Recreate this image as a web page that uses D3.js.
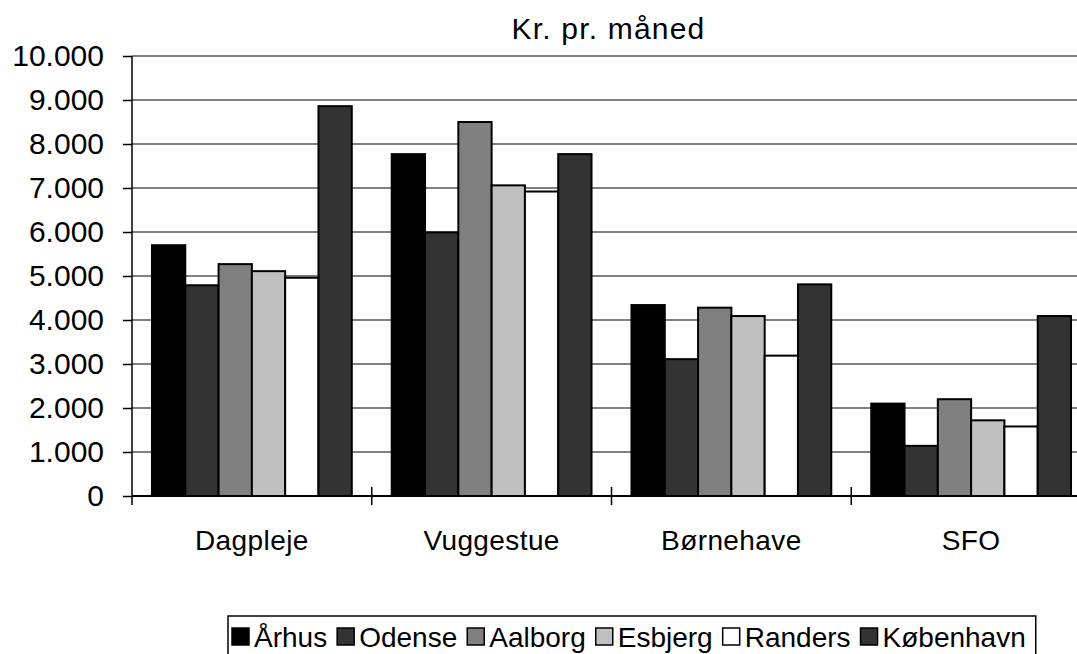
<!DOCTYPE html>
<html>
<head>
<meta charset="utf-8">
<script src="https://cdn.jsdelivr.net/npm/d3@7"></script>
<style>
  body { margin: 0; background: #fff; }
  svg { display: block; font-family: "Liberation Sans", Arial, sans-serif; }
</style>
</head>
<body>
<div id="chart"></div>
<script>
// Data
const categories = ['Dagpleje', 'Vuggestue', 'Børnehave', 'SFO'];
const cities = ['Århus', 'Odense', 'Aalborg', 'Esbjerg', 'Randers', 'København'];
const aarhus = [5700, 7770, 4340, 2100];
const odense = [4790, 5990, 3110, 1140];
const aalborg = [5270, 8500, 4280, 2200];
const esbjerg = [5110, 7060, 4090, 1720];
const randers = [4960, 6920, 3190, 1580];
const koebenhavn = [8860, 7770, 4810, 4090];
const yTicks = [0, 1000, 2000, 3000, 4000, 5000, 6000, 7000, 8000, 9000, 10000];

const seriesValues = [aarhus, odense, aalborg, esbjerg, randers, koebenhavn];
const cityColors = ['#000000', '#333333', '#808080', '#c0c0c0', '#ffffff', '#333333'];

// Size
const width = 1077;
const height = 654;
const plotLeft = 132;
const plotRight = 1091;
const plotTop = 56;
const plotBottom = 496;
const fontSize = 28;

const svg = d3.select('#chart').append('svg')
  .attr('width', width)
  .attr('height', height);

// Scales
const x = d3.scaleBand()
  .domain(categories)
  .range([plotLeft, plotRight]);
const xInner = d3.scaleBand()
  .domain(cities)
  .range([0, x.bandwidth()])
  .paddingInner(0)
  .paddingOuter(0.6);
const y = d3.scaleLinear()
  .domain([0, 10000])
  .range([plotBottom, plotTop]);

// Gridlines
svg.append('g')
  .attr('class', 'grid')
  .attr('stroke', '#808080')
  .attr('stroke-width', 2)
  .selectAll('line')
  .data(yTicks.filter(d => d > 0))
  .join('line')
  .attr('x1', plotLeft)
  .attr('x2', plotRight)
  .attr('y1', d => y(d))
  .attr('y2', d => y(d));

// Bars
const groups = svg.append('g')
  .attr('class', 'bars')
  .selectAll('g')
  .data(categories)
  .join('g')
  .attr('transform', d => `translate(${x(d)},0)`);

groups.selectAll('rect')
  .data((d, i) => cities.map((c, j) => ({city: c, value: seriesValues[j][i], color: cityColors[j]})))
  .join('rect')
  .attr('x', d => xInner(d.city))
  .attr('y', d => y(d.value))
  .attr('width', xInner.bandwidth())
  .attr('height', d => plotBottom - y(d.value))
  .attr('fill', d => d.color)
  .attr('stroke', '#000')
  .attr('stroke-width', 2);

// Y axis
const yAxis = svg.append('g')
  .attr('class', 'y-axis')
  .attr('transform', `translate(${plotLeft},0)`)
  .call(d3.axisLeft(y)
    .tickValues(yTicks)
    .tickSize(9)
    .tickPadding(19)
    .tickFormat(d => d3.format(',')(d).replace(/,/g, '.')));
yAxis.select('.domain').remove();
yAxis.selectAll('.tick line').attr('stroke', '#000').attr('stroke-width', 1.5);
yAxis.selectAll('.tick text')
  .attr('font-size', 30)
  .attr('font-family', '"Liberation Sans", Arial, sans-serif')
  .attr('fill', '#000');
svg.append('line')
  .attr('x1', plotLeft).attr('x2', plotLeft)
  .attr('y1', plotTop).attr('y2', plotBottom + 9)
  .attr('stroke', '#000')
  .attr('stroke-width', 1.5);

// X axis
svg.append('line')
  .attr('x1', plotLeft).attr('x2', plotRight)
  .attr('y1', plotBottom).attr('y2', plotBottom)
  .attr('stroke', '#000')
  .attr('stroke-width', 2);
svg.append('g')
  .attr('class', 'x-ticks')
  .selectAll('line')
  .data(categories.slice(1))
  .join('line')
  .attr('x1', d => x(d)).attr('x2', d => x(d))
  .attr('y1', plotBottom - 9).attr('y2', plotBottom + 9)
  .attr('stroke', '#000')
  .attr('stroke-width', 1.5);
svg.append('g')
  .attr('class', 'x-labels')
  .selectAll('text')
  .data(categories)
  .join('text')
  .attr('x', d => x(d) + x.bandwidth() / 2)
  .attr('y', 550)
  .attr('text-anchor', 'middle')
  .attr('font-size', fontSize)
  .attr('letter-spacing', 0.4)
  .text(d => d);

// Title
svg.append('text')
  .attr('x', (plotLeft + plotRight) / 2 - 3)
  .attr('y', 39)
  .attr('text-anchor', 'middle')
  .attr('font-size', 30)
  .attr('letter-spacing', 1.2)
  .text('Kr. pr. måned');

// Legend
const legend = svg.append('g').attr('class', 'legend');
const legendBox = legend.append('rect')
  .attr('y', 616)
  .attr('height', 60)
  .attr('fill', '#fff')
  .attr('stroke', '#000')
  .attr('stroke-width', 1.5);
let lx = 232;
cities.forEach((c, i) => {
  legend.append('rect')
    .attr('x', lx)
    .attr('y', 628)
    .attr('width', 17)
    .attr('height', 17)
    .attr('fill', cityColors[i])
    .attr('stroke', '#000')
    .attr('stroke-width', 1.5);
  const t = legend.append('text')
    .attr('x', lx + 22)
    .attr('y', 647)
    .attr('font-size', fontSize)
    .text(c);
  lx += 22 + t.node().getComputedTextLength() + 10;
});
legendBox.attr('x', 228).attr('width', lx - 228);
</script>
</body>
</html>
